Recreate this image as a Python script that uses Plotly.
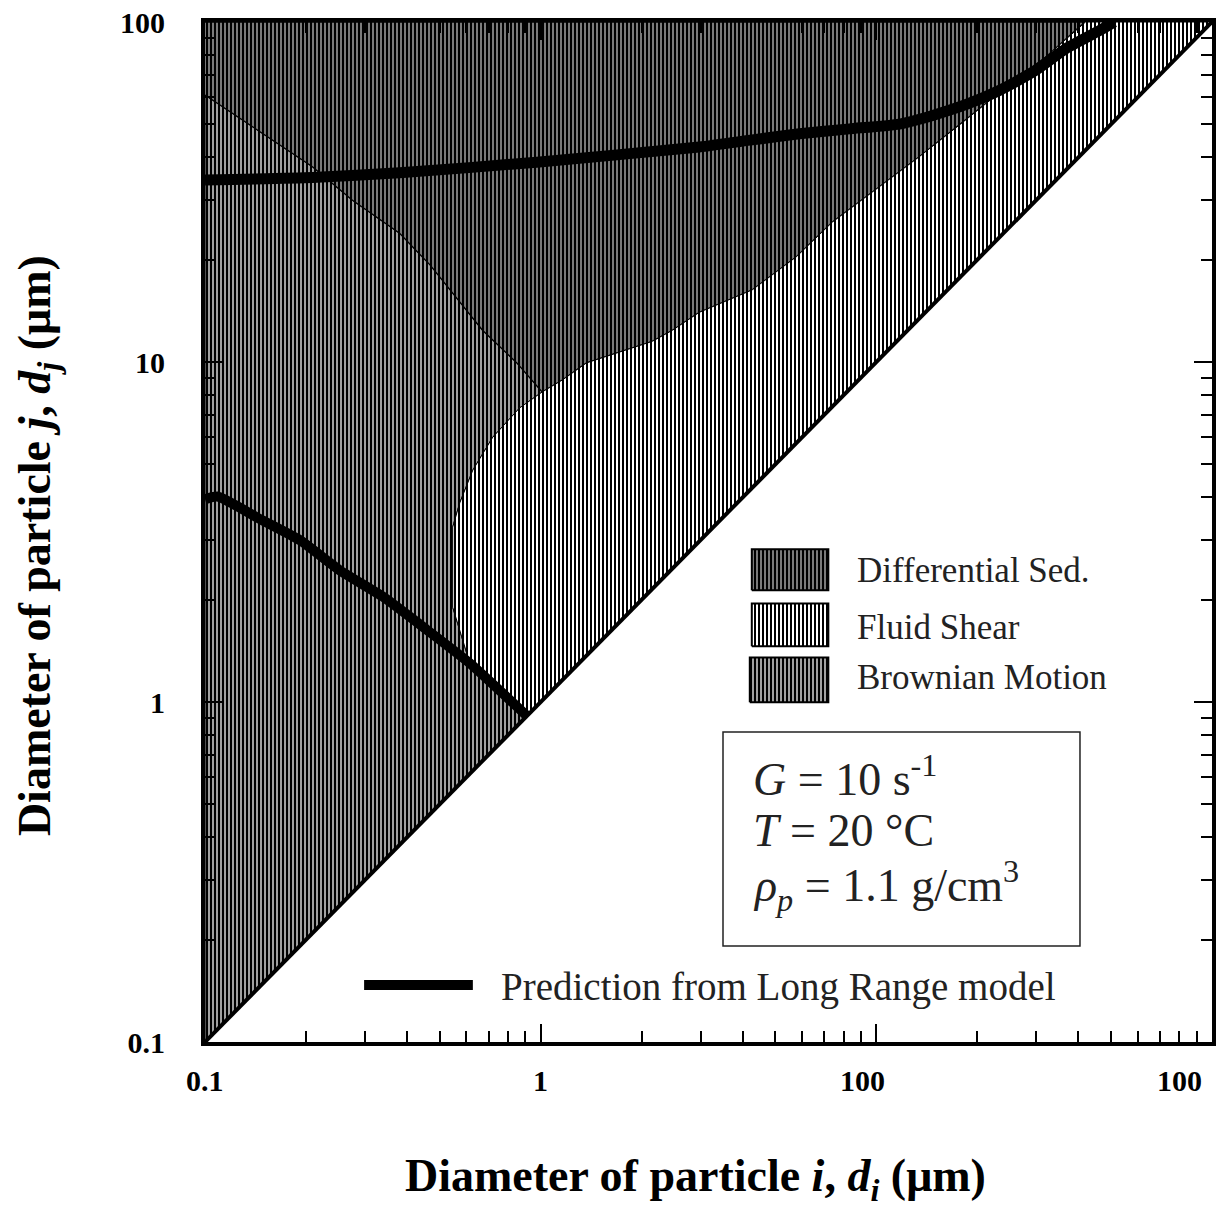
import math
import plotly.graph_objects as go

# ---------------- data ----------------
DIAG = [0.1, 100.0]  # axis limits, also the d_i = d_j diagonal

# Brownian / Differential-sedimentation boundary (thin line)
thin_x = [0.1, 0.209, 0.275, 0.38, 0.468, 0.671, 0.849, 1.01]
thin_y = [61.0, 37.5, 29.9, 23.9, 19.3, 12.4, 9.94, 8.16]

# Differential-sedimentation / Fluid-shear boundary
shear_top_x = [1.01, 1.16, 1.37, 1.72, 2.15, 2.47, 2.97, 4.27, 5.78, 7.40, 10.2, 13.4, 18.0, 23.2, 30.5, 40.2, 42.0]
shear_top_y = [8.16, 8.85, 9.94, 10.7, 11.5, 12.4, 14.0, 16.3, 20.4, 25.8, 32.7, 40.1, 50.5, 61.8, 75.7, 96.7, 100.0]

# Brownian / Fluid-shear boundary
shear_left_x = [1.01, 0.866, 0.72, 0.628, 0.574, 0.547, 0.547, 0.574, 0.615]
shear_left_y = [8.16, 7.33, 6.01, 4.81, 3.85, 3.27, 1.90, 1.63, 1.30]

# Long Range model predictions (thick lines)
lr_upper_x = [0.1, 0.209, 0.38, 0.973, 2.97, 4.27, 5.90, 8.32, 11.7, 14.8, 18.7, 23.4, 29.3, 37.0, 46.5, 51.1]
lr_upper_y = [34.3, 34.9, 36.0, 38.7, 42.9, 45.0, 46.9, 48.5, 50.1, 53.2, 57.4, 63.1, 71.3, 83.9, 94.7, 100.0]

lr_lower_x = [0.1, 0.109, 0.146, 0.192, 0.252, 0.339, 0.458, 0.615, 0.91]
lr_lower_y = [3.95, 4.02, 3.45, 2.99, 2.44, 2.04, 1.63, 1.30, 0.91]

x_tickvals = [0.1, 1, 10, 100]
x_ticktext = ["0.1", "1", "100", "100"]
y_tickvals = [0.1, 1, 10, 100]
y_ticktext = ["0.1", "1", "10", "100"]

legend_names = ["Differential Sed.", "Fluid Shear", "Brownian Motion"]
params_lines = ["<i>G</i> = 10 s<sup>-1</sup>",
                "<i>T</i> = 20 °C",
                "<i>ρ<sub>p</sub></i> = 1.1 g/cm<sup>3</sup>"]

# ---------------- styles ----------------
SERIF = "Liberation Serif"
COL_SED = "#7a7a7a"
COL_SHEAR = "#ffffff"
COL_BROWN = "#a0a0a0"
x_label_shift = [0, 0, -14, -33]


def pattern(bg):
    return dict(shape="|", bgcolor=bg, fgcolor="black", size=4, solidity=0.5, fillmode="replace")


# ---------------- region polygons (built from boundaries) ----------------
j = lr_lower_x.index(shear_left_x[-1])

brown_x = [DIAG[0]] + thin_x + shear_left_x[1:] + lr_lower_x[j + 1:]
brown_y = [DIAG[0]] + thin_y + shear_left_y[1:] + lr_lower_y[j + 1:]

sed_x = [DIAG[0]] + shear_top_x[::-1] + thin_x[::-1][1:]
sed_y = [DIAG[1]] + shear_top_y[::-1] + thin_y[::-1][1:]

shear_x = shear_top_x + [DIAG[1]] + lr_lower_x[j:][::-1] + shear_left_x[::-1][1:]
shear_y = shear_top_y + [DIAG[1]] + lr_lower_y[j:][::-1] + shear_left_y[::-1][1:]

fig = go.Figure()

fig.add_trace(go.Scatter(x=brown_x, y=brown_y, mode="lines", fill="toself",
                         fillcolor=COL_BROWN, fillpattern=pattern(COL_BROWN),
                         line=dict(color="black", width=1), showlegend=False, hoverinfo="skip"))
fig.add_trace(go.Scatter(x=sed_x, y=sed_y, mode="lines", fill="toself",
                         fillcolor=COL_SED, fillpattern=pattern(COL_SED),
                         line=dict(color="black", width=1.3), showlegend=False, hoverinfo="skip"))
fig.add_trace(go.Scatter(x=shear_x, y=shear_y, mode="lines", fill="toself",
                         fillcolor=COL_SHEAR, fillpattern=pattern(COL_SHEAR),
                         line=dict(color="black", width=1), showlegend=False, hoverinfo="skip"))

# diagonal
fig.add_trace(go.Scatter(x=DIAG, y=DIAG, mode="lines", line=dict(color="black", width=4),
                         showlegend=False, hoverinfo="skip"))

# Long range model lines
for xs, ys, w in [(lr_upper_x, lr_upper_y, 11), (lr_lower_x, lr_lower_y, 10)]:
    fig.add_trace(go.Scatter(x=xs, y=ys, mode="lines",
                             line=dict(color="black", width=w, shape="spline", smoothing=0.5),
                             showlegend=False, hoverinfo="skip"))

# ---------------- legend swatches on a helper (paper-like) axis ----------------
swatch_boxes = [(0.543, 0.619, 0.443, 0.483),
                (0.543, 0.619, 0.388, 0.430),
                (0.541, 0.619, 0.333, 0.377)]
swatch_cols = [COL_SED, COL_SHEAR, COL_BROWN]
label_y = [0.4627, 0.4059, 0.3569]
for (x0, x1, y0, y1), c, name, ly in zip(swatch_boxes, swatch_cols, legend_names, label_y):
    fig.add_trace(go.Scatter(x=[x0, x1, x1, x0, x0], y=[y0, y0, y1, y1, y0], xaxis="x2", yaxis="y2",
                             mode="lines", fill="toself", fillcolor=c, fillpattern=pattern(c),
                             line=dict(color="black", width=2), showlegend=False, hoverinfo="skip"))
    fig.add_annotation(x=0.645, y=ly, xref="paper", yref="paper", text=name, showarrow=False,
                       xanchor="left", yanchor="middle", font=dict(family=SERIF, size=35, color="#222"))

# prediction legend line
fig.add_shape(type="line", xref="paper", yref="paper", x0=0.158, x1=0.266, y0=0.0559, y1=0.0559,
              line=dict(color="black", width=10))
fig.add_annotation(x=0.292, y=0.0539, xref="paper", yref="paper",
                   text="Prediction from Long Range model", showarrow=False,
                   xanchor="left", yanchor="middle", font=dict(family=SERIF, size=39, color="#222"))

# parameter box
fig.add_shape(type="rect", xref="paper", yref="paper", x0=0.5144, x1=0.8689, y0=0.0941, y1=0.3039,
              line=dict(color="#222", width=1.5), fillcolor="white")
for line_txt, ly in zip(params_lines, [0.2610, 0.2070, 0.1530]):
    fig.add_annotation(x=0.542, y=ly, xref="paper", yref="paper", text=line_txt, showarrow=False,
                       xanchor="left", yanchor="middle", align="left",
                       font=dict(family=SERIF, size=46, color="#222"))

# x tick labels (placed through the x axis scale)
for v, t, s in zip(x_tickvals, x_ticktext, x_label_shift):
    fig.add_annotation(x=math.log10(v), y=0, xref="x", yref="paper", text=t, showarrow=False,
                       xanchor="center", yanchor="middle", xshift=s, yshift=-38,
                       font=dict(family=SERIF, size=30, color="black", weight="bold"))

# axis titles
fig.add_annotation(x=0.487, y=-0.134, xref="paper", yref="paper",
                   text="Diameter of particle <i>i</i>, <i>d<sub>i</sub></i> (μm)", showarrow=False,
                   xanchor="center", yanchor="middle",
                   font=dict(family=SERIF, size=46, color="black", weight="bold"))
fig.add_annotation(x=-0.166, y=0.487, xref="paper", yref="paper",
                   text="Diameter of particle <i>j</i>, <i>d<sub>j</sub></i> (μm)", showarrow=False,
                   textangle=-90, xanchor="center", yanchor="middle",
                   font=dict(family=SERIF, size=46, color="black", weight="bold"))

minor_vals = [m * 10 ** e for e in (-1, 0, 1) for m in range(2, 10)]

axis_common = dict(type="log", range=[-1, 2], showgrid=False, zeroline=False, automargin=False,
                   showline=True, linewidth=4, linecolor="black", mirror="ticks",
                   ticks="inside", ticklen=18, tickwidth=2, tickcolor="black",
                   minor=dict(tickvals=minor_vals, ticks="inside", ticklen=11, tickwidth=1.5,
                              tickcolor="black", showgrid=False),
                   tickfont=dict(family=SERIF, size=30, color="black", weight="bold"))

fig.update_layout(
    width=1224, height=1211,
    margin=dict(l=205, r=12, t=22, b=169),
    paper_bgcolor="white", plot_bgcolor="white",
    hovermode=False,
    xaxis=dict(**axis_common, tickmode="array", tickvals=x_tickvals, showticklabels=False),
    yaxis=dict(**axis_common, tickmode="array", tickvals=y_tickvals, ticktext=y_ticktext,
               ticklabelstandoff=30),
    xaxis2=dict(overlaying="x", range=[0, 1], visible=False, fixedrange=True),
    yaxis2=dict(overlaying="y", range=[0, 1], visible=False, fixedrange=True),
)

fig.write_html("out.html")
